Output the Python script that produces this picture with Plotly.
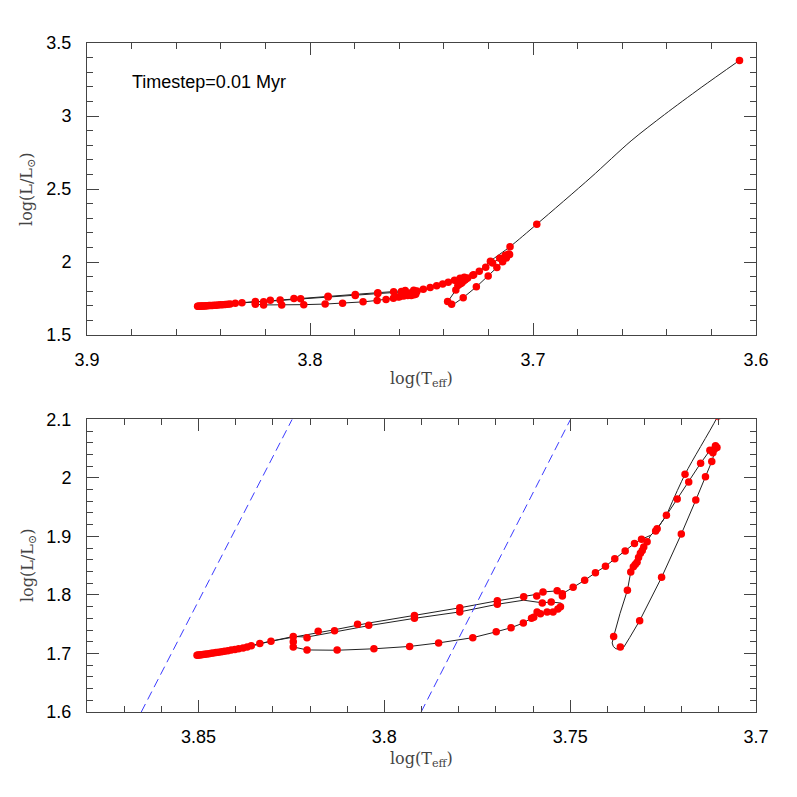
import plotly.graph_objects as go

# ---------------- data ----------------
# descent from the tip of the red giant branch (smooth curve)
descent_logT = [3.6074, 3.6246, 3.6410, 3.6560, 3.6740, 3.6983, 3.7103, 3.7191, 3.7241]
descent_logL = [3.381, 3.195, 3.010, 2.830, 2.580, 2.259, 2.105, 2.006, 1.936]

# rest of the track (ellipse + blue loop)
track_logT = [3.7241, 3.7266,
              3.7283, 3.7293, 3.7302, 3.7311, 3.7320, 3.7337, 3.7346, 3.7366, 3.7383, 3.7387,
              3.7384, 3.7377, 3.7368, 3.7356, 3.7340, 3.7313, 3.7254, 3.7201, 3.7162, 3.7136,
              3.7119, 3.7110,
              3.7106, 3.7114, 3.7124, 3.7149, 3.7181, 3.7212, 3.7241, 3.7266, 3.7283, 3.7308,
              3.7327, 3.7352, 3.7380, 3.7405, 3.7432, 3.7461, 3.7492, 3.7521, 3.7535, 3.7573,
              3.7600, 3.7625, 3.7696, 3.7797, 3.7919, 3.8042, 3.8134, 3.8200, 3.8245, 3.8305,
              3.8335, 3.8358, 3.8396, 3.8450, 3.8504, 3.8450, 3.8396, 3.8358, 3.8305, 3.8245,
              3.8245, 3.8244, 3.8208, 3.8127, 3.8028, 3.7932, 3.7854, 3.7762, 3.7699, 3.7659,
              3.7626, 3.7604, 3.7590, 3.7575, 3.7562, 3.7546, 3.7533, 3.7524, 3.7524, 3.7551,
              3.7575, 3.7625, 3.7696, 3.7797, 3.7919, 3.8042, 3.8134, 3.8208, 3.8245]
track_logL = [1.936, 1.913,
              1.902, 1.891, 1.882, 1.871, 1.856, 1.839, 1.808, 1.768, 1.729, 1.718,
              1.712, 1.708, 1.7075, 1.7105, 1.727, 1.756, 1.830, 1.904, 1.962, 2.002,
              2.028, 2.046,
              2.055, 2.052, 2.047, 2.025, 1.993, 1.964, 1.936, 1.913, 1.902, 1.895,
              1.888, 1.875, 1.862, 1.849, 1.838, 1.825, 1.813, 1.802, 1.807, 1.805,
              1.800, 1.7975, 1.790, 1.778, 1.765, 1.752, 1.7405, 1.733, 1.729, 1.721,
              1.717, 1.713, 1.7067, 1.7008, 1.6969, 1.7008, 1.7067, 1.713, 1.721, 1.729,
              1.720, 1.711, 1.706, 1.7055, 1.708, 1.712, 1.718, 1.727, 1.737, 1.744,
              1.752, 1.760, 1.766, 1.769, 1.771, 1.772, 1.776, 1.781, 1.786, 1.788,
              1.7865, 1.791, 1.784, 1.771, 1.760, 1.7475, 1.737, 1.728, 1.729]

# models drawn every 0.01 Myr (red dots)
dot_logT = [3.6074, 3.6983, 3.7103, 3.7191, 3.7241, 3.7266, 3.7270,
            3.7149, 3.7181, 3.7212,
            3.7109, 3.7105, 3.7112, 3.7124, 3.7116,
            3.7119, 3.7136, 3.7162, 3.7201, 3.7254, 3.7313, 3.7365,
            3.7383, 3.7346, 3.7337, 3.7330, 3.7325, 3.7320, 3.7316, 3.7311, 3.7306, 3.7302, 3.7293,
            3.7308, 3.7327, 3.7352, 3.7380, 3.7405, 3.7432, 3.7461, 3.7492,
            3.7521, 3.7521, 3.7535, 3.7573, 3.7590, 3.7625, 3.7575, 3.7551, 3.7526, 3.7533,
            3.7546, 3.7562, 3.7580, 3.7589, 3.7598, 3.7604, 3.7626, 3.7659,
            3.7699, 3.7762, 3.7854, 3.7932, 3.8028, 3.8127, 3.8208, 3.8245, 3.8245,
            3.7696, 3.7696, 3.7797, 3.7797, 3.7919, 3.7919, 3.8042, 3.8072, 3.8134, 3.8178,
            3.8208, 3.8245,
            3.8305, 3.8335, 3.8358, 3.8369,
            3.8380, 3.8392, 3.8402, 3.8412, 3.8421, 3.8430, 3.8438, 3.8446, 3.8453, 3.8460,
            3.8466, 3.8472, 3.8478, 3.8483, 3.8488, 3.8493, 3.8497, 3.8501, 3.8504]
dot_logL = [3.381, 2.259, 2.105, 2.006, 1.936, 1.913, 1.909,
            2.025, 1.993, 1.964,
            2.055, 2.052, 2.049, 2.047, 2.043,
            2.028, 2.002, 1.962, 1.904, 1.830, 1.756, 1.711,
            1.729, 1.808, 1.839, 1.848, 1.852, 1.856, 1.864, 1.871, 1.876, 1.882, 1.891,
            1.895, 1.888, 1.875, 1.862, 1.849, 1.838, 1.825, 1.813,
            1.802, 1.798, 1.807, 1.805, 1.798, 1.797, 1.786, 1.788, 1.780, 1.776,
            1.771, 1.771, 1.768, 1.771, 1.762, 1.760, 1.752, 1.744,
            1.737, 1.727, 1.718, 1.712, 1.708, 1.706, 1.706, 1.711, 1.720,
            1.790, 1.784, 1.778, 1.771, 1.765, 1.760, 1.748, 1.750, 1.739, 1.738,
            1.727, 1.729,
            1.721, 1.717, 1.713, 1.711,
            1.7095, 1.7080, 1.7068, 1.7057, 1.7047, 1.7038, 1.7030, 1.7022, 1.7015, 1.7008,
            1.7002, 1.6996, 1.6991, 1.6986, 1.6982, 1.6978, 1.6975, 1.6972, 1.6969]

# instability strip edges (bottom panel)
blue_edge_logT = [3.8654, 3.8248]
blue_edge_logL = [1.6, 2.1]
red_edge_logT = [3.7901, 3.7499]
red_edge_logL = [1.6, 2.1]

label_text = "Timestep=0.01 Myr"
x_title = "log(T<sub>eff</sub>)"
y_title = "log(L/L<sub>⊙</sub>)"

# ---------------- figure ----------------
fig = go.Figure()

line_style = dict(color="#222222", width=1)
marker_style = dict(color="#ff0000", size=7.5, line=dict(width=0))

for xa, ya in (("x", "y"), ("x2", "y2")):
    fig.add_trace(go.Scatter(x=descent_logT, y=descent_logL, mode="lines",
                             line=dict(color="#222222", width=1, shape="spline", smoothing=0.8),
                             xaxis=xa, yaxis=ya, showlegend=False, hoverinfo="skip"))
    fig.add_trace(go.Scatter(x=track_logT, y=track_logL, mode="lines", line=line_style,
                             xaxis=xa, yaxis=ya, showlegend=False, hoverinfo="skip"))
for ex, ey in ((blue_edge_logT, blue_edge_logL), (red_edge_logT, red_edge_logL)):
    fig.add_trace(go.Scatter(x=ex, y=ey, mode="lines",
                             line=dict(color="#3b3bff", width=1, dash="9px,5px"),
                             xaxis="x2", yaxis="y2", showlegend=False))
for xa, ya in (("x", "y"), ("x2", "y2")):
    fig.add_trace(go.Scatter(x=dot_logT, y=dot_logL, mode="markers", marker=marker_style,
                             xaxis=xa, yaxis=ya, showlegend=False))

tick_font = dict(family="Liberation Sans, Arial, sans-serif", size=18, color="black")
axis_common = dict(showline=True, linecolor="#444", linewidth=1, mirror="allticks",
                   ticks="inside", ticklen=12, tickcolor="#444", tickwidth=1,
                   showgrid=False, zeroline=False, tickfont=tick_font)

top_dom = [0.5635, 1.0]
bot_dom = [0.0, 0.4375]

fig.update_layout(
    width=789, height=789,
    margin=dict(l=79, r=41, t=35, b=85),
    paper_bgcolor="white", plot_bgcolor="white",
    xaxis=dict(domain=[0, 1], anchor="y", range=[3.9, 3.6], tick0=3.6, dtick=0.1,
               minor=dict(dtick=0.02, ticks="inside", ticklen=6, tickcolor="#444"),
               ticklabelstandoff=8, **axis_common),
    yaxis=dict(domain=top_dom, anchor="x", range=[1.5, 3.5], tick0=1.5, dtick=0.5,
               minor=dict(dtick=0.1, ticks="inside", ticklen=6, tickcolor="#444"),
               ticklabelstandoff=11, **axis_common),
    xaxis2=dict(domain=[0, 1], anchor="y2", range=[3.88, 3.7], tick0=3.7, dtick=0.05,
                minor=dict(dtick=0.01, ticks="inside", ticklen=6, tickcolor="#444"),
                ticklabelstandoff=8, **axis_common),
    yaxis2=dict(domain=bot_dom, anchor="x2", range=[1.6, 2.1], tick0=1.6, dtick=0.1,
                minor=dict(dtick=0.02, ticks="inside", ticklen=6, tickcolor="#444"),
                ticklabelstandoff=11, **axis_common),
)

title_font = dict(family="DejaVu Serif, Liberation Serif, serif", size=16, color="#444")
fig.add_annotation(text=label_text, xref="paper", yref="paper", x=0.064, y=0.942,
                   xanchor="left", yanchor="middle", showarrow=False,
                   font=dict(family="Liberation Sans, Arial, sans-serif", size=18, color="black"))
fig.add_annotation(text=x_title, xref="paper", yref="paper", x=0.5, y=0.4963,
                   xanchor="center", yanchor="middle", showarrow=False, font=title_font)
fig.add_annotation(text=x_title, xref="paper", yref="paper", x=0.5, y=-0.0717,
                   xanchor="center", yanchor="middle", showarrow=False, font=title_font)
fig.add_annotation(text=y_title, xref="paper", yref="paper", x=-0.0882, y=0.7818,
                   xanchor="center", yanchor="middle", showarrow=False, textangle=-90,
                   font=title_font)
fig.add_annotation(text=y_title, xref="paper", yref="paper", x=-0.0882, y=0.2197,
                   xanchor="center", yanchor="middle", showarrow=False, textangle=-90,
                   font=title_font)

fig.write_html("out.html")
